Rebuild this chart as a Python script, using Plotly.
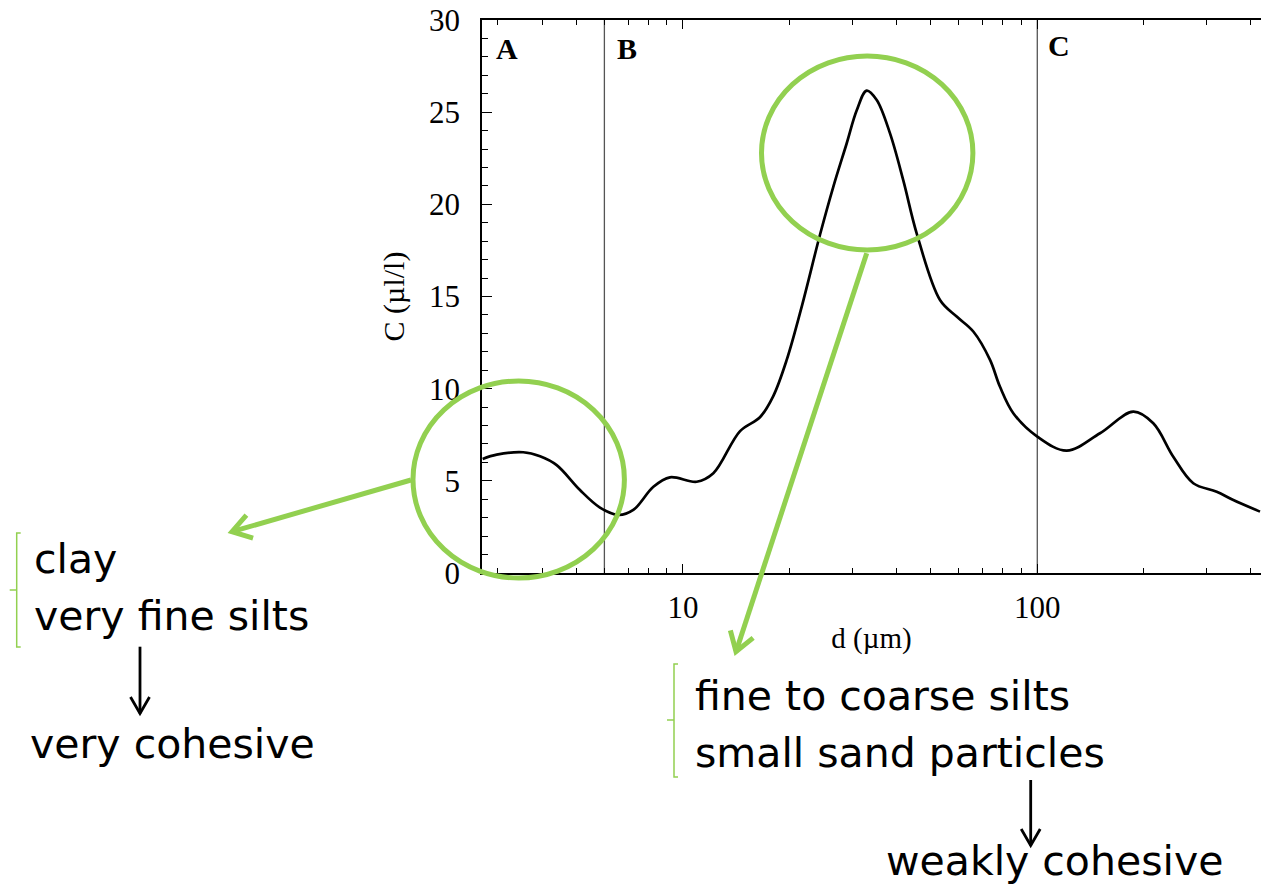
import math
import plotly.graph_objects as go

# Particle size distribution: diameter (µm) vs. volume concentration (µl/l)
diameter_um = [2.72, 2.98, 3.54, 3.95, 4.40, 5.12, 5.83, 6.57, 7.24, 8.25, 9.19,
               10.93, 12.18, 14.49, 16.49, 17.98, 19.62, 21.70, 24.36, 26.56, 28.97,
               30.93, 33.00, 35.22, 38.38, 41.86, 45.66, 53.14, 59.22, 65.97, 73.55,
               78.47, 85.56, 100.0, 121.1, 150.3, 186.6, 212.5, 242.0, 275.6, 320.9,
               357.5, 425.2]
concentration = [6.19, 6.42, 6.55, 6.33, 5.85, 4.50, 3.55, 3.15, 3.42, 4.68, 5.19,
                 4.95, 5.41, 7.70, 8.45, 9.60, 11.56, 14.55, 18.35, 20.95, 23.3,
                 25.1, 26.17, 25.66, 23.86, 21.3, 18.43, 14.81, 13.91, 13.10, 11.56,
                 10.1, 8.67, 7.40, 6.64, 7.58, 8.75, 8.12, 6.31, 4.87, 4.41,
                 3.96, 3.33]

# Class boundaries (µm) and class names
zone_bounds = [6, 100]
zone_labels = ["A", "B", "C"]

# Callout texts
fine_lines = ["clay", "very fine silts"]
fine_result = "very cohesive"
coarse_lines = ["fine to coarse silts", "small sand particles"]
coarse_result = "weakly cohesive"

# ---- page geometry (pixels) ----
FIG_W, FIG_H = 1261, 887
L, R, T, B = 482, 1261, 20, 573
W, H = R - L, B - T

GREEN = "#92D050"
SERIF = "Liberation Serif"
SANS = "DejaVu Sans"


def fx(x):
    return (x - L) / W


def fy(y):
    return (B - y) / H


fig = go.Figure()

# class boundary lines
for xb in zone_bounds:
    fig.add_trace(go.Scatter(x=[xb, xb], y=[0, 30], mode="lines",
                             line=dict(color="#555555", width=1.3),
                             hoverinfo="skip", showlegend=False))

# distribution curve
fig.add_trace(go.Scatter(x=diameter_um, y=concentration, mode="lines",
                         line=dict(color="black", width=2.7, shape="spline", smoothing=1.0),
                         showlegend=False))

annotations = []
shapes = []

# class letters
for lab, (cx, cy) in zip(zone_labels, [(506.7, 48), (626.7, 48), (1059.3, 45)]):
    annotations.append(dict(text="<b>%s</b>" % lab, x=fx(cx), y=fy(cy), xref="paper", yref="paper",
                            xanchor="center", yanchor="middle", showarrow=False,
                            font=dict(family=SERIF, size=30, color="black")))


def ellipse(cx, cy, rx, ry):
    shapes.append(dict(type="circle", xref="paper", yref="paper",
                       x0=fx(cx - rx), x1=fx(cx + rx), y0=fy(cy + ry), y1=fy(cy - ry),
                       line=dict(color=GREEN, width=5), layer="above"))


def segment(x0, y0, x1, y1, color, width):
    shapes.append(dict(type="line", xref="paper", yref="paper",
                       x0=fx(x0), y0=fy(y0), x1=fx(x1), y1=fy(y1),
                       line=dict(color=color, width=width), layer="above"))


def arrow(x0, y0, x1, y1, color, width, head_len, head_deg):
    segment(x0, y0, x1, y1, color, width)
    dx, dy = x1 - x0, y1 - y0
    n = math.hypot(dx, dy)
    ux, uy = dx / n, dy / n
    pts = []
    for sgn in (1, -1):
        a = math.radians(head_deg) * sgn
        bx = -ux * math.cos(a) + uy * math.sin(a)
        by = -uy * math.cos(a) - ux * math.sin(a)
        pts.append((x1 + bx * head_len, y1 + by * head_len))
    path = "M %f,%f L %f,%f L %f,%f" % (fx(pts[0][0]), fy(pts[0][1]), fx(x1), fy(y1),
                                        fx(pts[1][0]), fy(pts[1][1]))
    shapes.append(dict(type="path", xref="paper", yref="paper", path=path,
                       line=dict(color=color, width=width), layer="above"))


def bracket(x, y_top, y_bot, y_mid):
    pts = [(x + 4, y_top), (x, y_top), (x, y_bot), (x + 4, y_bot)]
    path = "M " + " L ".join("%f,%f" % (fx(a), fy(b)) for a, b in pts)
    shapes.append(dict(type="path", xref="paper", yref="paper", path=path,
                       line=dict(color=GREEN, width=1.5), layer="above"))
    segment(x - 7, y_mid, x, y_mid, GREEN, 1.5)


def label(text, x_left, baseline, size=41):
    annotations.append(dict(text=text, x=fx(x_left), y=fy(baseline - 0.346 * size),
                            xref="paper", yref="paper", xanchor="left", yanchor="middle",
                            showarrow=False, borderpad=0,
                            font=dict(family=SANS, size=size, color="black")))


# highlighted regions and pointers
ellipse(518.7, 479.5, 105.7, 98.5)
ellipse(867.2, 153.0, 105.7, 97.0)
arrow(411, 480, 232, 531.7, GREEN, 5, 22, 33)
arrow(866.7, 253.3, 736, 651.7, GREEN, 5, 22, 33)

# fine fraction callout
bracket(16.7, 533, 647, 590)
label(fine_lines[0], 33, 573)
label(fine_lines[1], 33, 630)
arrow(140, 646.7, 140, 713.5, "black", 2.8, 19, 30)
label(fine_result, 29, 758)

# coarse fraction callout
bracket(674, 664, 777, 720)
label(coarse_lines[0], 694, 710)
label(coarse_lines[1], 694, 766.7)
arrow(1030.7, 780, 1030.7, 845.5, "black", 2.8, 19, 30)
label(coarse_result, 885, 875)

tick_font = dict(family=SERIF, size=31, color="black")

fig.update_layout(
    width=FIG_W, height=FIG_H,
    margin=dict(l=L, r=FIG_W - R, t=T, b=FIG_H - B, pad=0),
    paper_bgcolor="white", plot_bgcolor="white",
    showlegend=False,
    annotations=annotations,
    shapes=shapes,
    xaxis=dict(type="log", range=[0.4327, 2.6314], dtick=1,
               showline=True, linecolor="black", linewidth=1.8, mirror="ticks",
               ticks="inside", ticklen=9, tickwidth=1.4, tickcolor="black",
               showgrid=False, zeroline=False, tickfont=tick_font,
               ticklabelstandoff=6,
               minor=dict(ticks="inside", ticklen=5, tickwidth=1.4, tickcolor="black",
                          dtick="D1", showgrid=False),
               title=dict(text="d (µm)", font=dict(family=SERIF, size=29, color="black"),
                          standoff=4)),
    yaxis=dict(range=[0, 30], dtick=5,
               showline=True, linecolor="black", linewidth=1.8,
               ticks="inside", ticklen=10, tickwidth=1.4, tickcolor="black",
               showgrid=False, zeroline=False, tickfont=tick_font,
               ticklabelstandoff=14,
               minor=dict(ticks="inside", ticklen=6, tickwidth=1.4, tickcolor="black",
                          dtick=1, showgrid=False),
               title=dict(text="C (µl/l)", font=dict(family=SERIF, size=30, color="black"),
                          standoff=15)),
)

fig.write_html("out.html")
